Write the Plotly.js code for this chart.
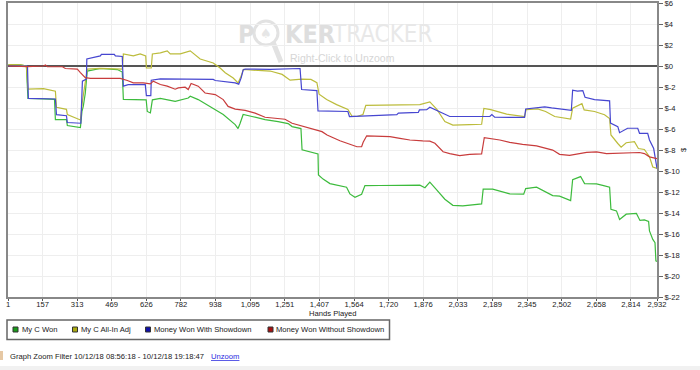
<!DOCTYPE html>
<html>
<head>
<meta charset="utf-8">
<script src="https://cdn.plot.ly/plotly-3.0.1.min.js"></script>
<style>
html,body{margin:0;padding:0;background:#fff;}
#chart{width:700px;height:370px;}
</style>
</head>
<body>
<div id="chart"></div>
<script>
// ---- Data ----
const xTickVals = [1,157,313,469,626,782,938,1095,1251,1407,1564,1720,1876,2033,2189,2345,2502,2658,2814,2932];
const xTickText = ["1","157","313","469","626","782","938","1,095","1,251","1,407","1,564","1,720","1,876","2,033","2,189","2,345","2,502","2,658","2,814","2,932"];
const yTickVals = [-22,-20,-18,-16,-14,-12,-10,-8,-6,-4,-2,0,2,4,6];
const yTickText = ["$-22","$-20","$-18","$-16","$-14","$-12","$-10","$-8","$-6","$-4","$-2","$0","$2","$4","$6"];

const seriesNames = ["My C Won","My C All-In Adj","Money Won With Showdown","Money Won Without Showdown"];

const myCWonHands = [3,57,84,91,161,211,215,265,269,328,335,341,350,359,418,495,517,522,625,630,644,653,689,756,815,824,860,937,973,1027,1040,1049,1063,1103,1162,1221,1266,1284,1324,1329,1397,1401,1403,1424,1455,1530,1545,1568,1598,1613,1681,1756,1861,1884,1906,1936,1974,2010,2055,2140,2147,2190,2235,2267,2330,2339,2388,2416,2461,2492,2542,2551,2587,2605,2659,2691,2718,2724,2749,2763,2793,2839,2855,2875,2894,2898,2913,2923,2927,2932];
const myCWon = [0.14,0.10,0,-3.08,-3.13,-3.17,-5.10,-5.10,-5.67,-5.87,-4.33,-3.85,-2.60,-0.48,-0.24,-0.34,-0.58,-3.17,-3.22,-4.33,-4.47,-3.22,-3.08,-3.37,-3.05,-2.88,-3.20,-4.13,-4.62,-5.58,-5.96,-5.48,-4.62,-4.81,-5.10,-5.29,-5.48,-5.77,-5.96,-7.98,-8.32,-8.37,-10.38,-10.77,-11.20,-11.54,-12.18,-12.50,-12.21,-11.39,-11.38,-11.38,-11.35,-11.59,-11.06,-11.78,-12.69,-13.27,-13.32,-13.13,-11.73,-11.73,-11.95,-12.18,-12.21,-11.68,-11.54,-11.86,-12.34,-12.40,-12.82,-10.82,-10.53,-11.20,-11.22,-11.39,-11.54,-13.65,-13.80,-14.62,-14.11,-14.04,-14.71,-14.66,-14.81,-15.70,-16.51,-16.83,-18.56,-18.61];

const allInHands = [3,57,84,91,161,206,215,220,265,269,328,337,346,359,418,495,517,522,567,598,623,626,648,653,689,720,734,779,824,869,928,959,982,1018,1040,1054,1064,1094,1185,1239,1275,1328,1369,1396,1406,1440,1485,1536,1554,1577,1604,1617,1681,1757,1861,1906,1938,1974,2010,2086,2140,2150,2181,2253,2334,2341,2393,2429,2470,2542,2551,2593,2603,2650,2695,2718,2724,2755,2770,2793,2830,2848,2875,2898,2913,2932];
const allInAdj = [0.14,0.10,0,-2.21,-2.16,-2.40,-2.40,-3.94,-4.13,-4.62,-5.14,-3.37,-2.21,-0.29,-0.22,-0.24,-0.29,1.15,0.96,1.15,0.96,-0.19,-0.19,1.15,1.25,1.44,1.15,1.15,1.44,0.67,0.29,-0.19,-0.64,-1.15,-1.61,-0.96,-0.32,-0.38,-0.48,-0.80,-1.35,-1.25,-1.28,-1.59,-2.69,-3.20,-3.68,-4.13,-4.76,-4.81,-4.62,-3.75,-3.75,-3.68,-3.68,-3.41,-4.13,-5.29,-5.63,-5.58,-5.55,-4.04,-4.16,-4.59,-4.81,-4.16,-4.09,-4.33,-4.81,-5.05,-4.01,-3.59,-4.18,-4.33,-4.64,-5.00,-6.57,-7.38,-7.74,-7.31,-7.21,-7.86,-7.95,-8.65,-9.62,-9.76];

const showdownHands = [3,89,93,215,220,265,269,330,337,355,357,418,423,481,486,517,522,544,621,626,646,648,689,928,937,1027,1043,1054,1063,1072,1185,1320,1327,1396,1401,1536,1543,1757,1764,1854,1859,1892,1906,1936,1996,2177,2186,2199,2334,2339,2425,2456,2545,2551,2573,2597,2607,2650,2718,2722,2755,2763,2799,2845,2853,2890,2898,2917,2921,2932];
const withShowdown = [0,0,-3.08,-3.14,-4.64,-4.74,-5.38,-5.45,-1.44,-1.25,0.67,0.96,1.11,1.11,0.96,0.91,-1.92,-1.78,-1.78,-2.82,-2.82,-1.35,-1.22,-1.28,-1.38,-1.61,-1.73,-1.13,-0.38,-0.29,-0.32,-0.24,-2.24,-2.34,-4.28,-4.33,-4.81,-4.64,-4.49,-4.42,-4.18,-4.16,-3.92,-4.23,-4.81,-4.81,-4.62,-4.88,-4.90,-4.09,-3.89,-3.99,-4.23,-2.31,-2.40,-2.34,-2.98,-3.20,-3.32,-5.43,-5.77,-6.35,-5.93,-5.93,-6.41,-6.41,-7.05,-7.86,-8.49,-9.76];

const noShowdownHands = [3,89,161,170,179,247,260,314,328,350,373,508,540,567,612,644,657,689,720,756,770,801,815,828,860,891,937,973,995,1027,1072,1117,1162,1207,1252,1284,1329,1374,1419,1442,1500,1545,1577,1598,1605,1621,1681,1726,1771,1816,1874,1906,1929,1966,1996,2041,2086,2140,2152,2222,2267,2325,2388,2461,2492,2537,2614,2659,2704,2794,2853,2875,2898,2932];
const withoutShowdown = [0,-0.05,0,0.10,-0.07,-0.07,-0.24,-0.29,-0.63,-1.11,-1.18,-1.18,-1.38,-1.61,-1.61,-1.70,-1.44,-1.76,-1.92,-2.21,-2.09,-2.02,-2.24,-1.66,-1.92,-2.57,-2.72,-3.20,-3.85,-4.11,-4.23,-4.49,-4.88,-4.97,-5.07,-5.45,-5.70,-5.93,-6.25,-6.57,-7.12,-7.45,-7.69,-7.69,-7.26,-6.65,-6.66,-6.73,-6.89,-7.05,-7.14,-7.16,-7.36,-8.17,-8.34,-8.53,-8.41,-8.37,-6.83,-7.05,-7.28,-7.47,-7.60,-8.01,-8.41,-8.51,-8.22,-8.17,-8.34,-8.27,-8.24,-8.34,-8.65,-8.82];

// ---- Styling ----
const lineColors = ["#3dbb3d","#bcbc3c","#4646d0","#c83c3c"];
const swatchColors = ["#1a9c1a","#aaaa10","#1010a8","#a81010"];
const FONT = "Liberation Sans, Arial, sans-serif";
const FS = 7.65;

// pixel -> paper helpers for decorations (plot area x 8..657, y 3..297)
const PX = p => (p - 8) / 649;
const PY = p => (297 - p) / 294;

const xs = [myCWonHands, allInHands, showdownHands, noShowdownHands];
const ys = [myCWon, allInAdj, withShowdown, withoutShowdown];

const traces = seriesNames.map((n, i) => ({
  type: "scatter", mode: "lines", name: n,
  x: xs[i], y: ys[i],
  line: {color: lineColors[i], width: 1.2},
  hoverinfo: "skip", showlegend: false
}));

const shapes = [];
const annotations = [];

// axis titles
annotations.push({xref:"paper", yref:"paper", x:PX(333), y:PY(313.5), xanchor:"center", yanchor:"middle",
  text:"Hands Played", showarrow:false, font:{family:FONT, size:FS, color:"#222"}});
annotations.push({xref:"paper", yref:"paper", x:PX(683), y:PY(150), xanchor:"center", yanchor:"middle",
  text:"$", textangle:-90, showarrow:false, font:{family:FONT, size:FS, color:"#222"}});

// legend box
shapes.push({type:"rect", xref:"paper", yref:"paper", x0:PX(7), x1:PX(389.5), y0:PY(339.5), y1:PY(320),
  line:{color:"#666", width:1.5}, fillcolor:"rgba(0,0,0,0)"});
const swatchX = [13, 72.5, 145.5, 268];
const labelX = [20, 79, 152, 274];
seriesNames.forEach((n, i) => {
  shapes.push({type:"rect", xref:"paper", yref:"paper", x0:PX(swatchX[i]), x1:PX(swatchX[i]+5),
    y0:PY(332), y1:PY(327), fillcolor:swatchColors[i], line:{color:"#333", width:1}});
  annotations.push({xref:"paper", yref:"paper", x:PX(labelX[i]), y:PY(329.5), xanchor:"left", yanchor:"middle",
    text:n, showarrow:false, font:{family:FONT, size:FS, color:"#222"}});
});

// bottom band + small icon
shapes.push({type:"rect", xref:"paper", yref:"paper", x0:PX(0), x1:PX(700), y0:PY(372), y1:PY(366),
  fillcolor:"#f1f1f1", line:{width:0}});
shapes.push({type:"rect", xref:"paper", yref:"paper", x0:PX(0), x1:PX(3), y0:PY(360), y1:PY(351),
  fillcolor:"#e6c8a4", line:{width:0}});

annotations.push({xref:"paper", yref:"paper", x:PX(8), y:PY(356), xanchor:"left", yanchor:"middle",
  text:"Graph Zoom Filter 10/12/18 08:56:18 - 10/12/18 19:18:47", showarrow:false,
  font:{family:FONT, size:FS, color:"#222"}});
annotations.push({xref:"paper", yref:"paper", x:PX(208.5), y:PY(356), xanchor:"left", yanchor:"middle",
  text:"Unzoom", showarrow:false, font:{family:FONT, size:FS, color:"#2a2ae0", lineposition:"under"}});

// watermark
shapes.push({type:"circle", xref:"paper", yref:"paper", layer:"below", x0:PX(254), x1:PX(278), y0:PY(45), y1:PY(21),
  line:{color:"#e2e2e2", width:3}, fillcolor:"rgba(0,0,0,0)"});
shapes.push({type:"line", xref:"paper", yref:"paper", layer:"below", x0:PX(273), y0:PY(42), x1:PX(281), y1:PY(62),
  line:{color:"#e2e2e2", width:5}});
annotations.push({xref:"paper", yref:"paper", x:PX(266), y:PY(33), xanchor:"center", yanchor:"middle",
  text:"♠", showarrow:false, font:{family:"DejaVu Sans", size:13, color:"#e6e6e6"}});
annotations.push({xref:"paper", yref:"paper", x:PX(236), y:PY(34), xanchor:"left", yanchor:"middle",
  text:"P", showarrow:false, font:{family:"DejaVu Sans Condensed, DejaVu Sans", size:25, weight:700, color:"#dedede"}});
annotations.push({xref:"paper", yref:"paper", x:PX(283), y:PY(34), xanchor:"left", yanchor:"middle",
  text:"KER", showarrow:false, font:{family:"DejaVu Sans Condensed, DejaVu Sans", size:25, weight:700, color:"#dedede"}});
annotations.push({xref:"paper", yref:"paper", x:PX(330), y:PY(34), xanchor:"left", yanchor:"middle",
  text:"TRACKER", showarrow:false, font:{family:"DejaVu Sans Condensed, DejaVu Sans", size:24, color:"#e8e8e8"}});
annotations.push({xref:"paper", yref:"paper", x:PX(288), y:PY(58), xanchor:"left", yanchor:"middle",
  text:"Right-Click to Unzoom", showarrow:false, font:{family:FONT, size:10.5, color:"#d6d6d6"}});

const layout = {
  width:700, height:370,
  margin:{l:8, r:43, t:3, b:73, pad:0},
  paper_bgcolor:"#ffffff", plot_bgcolor:"#ffffff",
  font:{family:FONT, size:FS, color:"#222"},
  showlegend:false,
  xaxis:{
    range:[1,2932], tickmode:"array", tickvals:xTickVals, ticktext:xTickText,
    ticks:"outside", ticklen:2, tickcolor:"#555", tickwidth:1,
    showgrid:true, gridcolor:"#eeeeee", gridwidth:1,
    showline:true, linecolor:"#888", linewidth:2, mirror:true,
    zeroline:false, automargin:false, fixedrange:true, ticklabeloverflow:"allow",
    ticklabelstandoff:-3,
    tickfont:{family:FONT, size:FS, color:"#222"}
  },
  yaxis:{
    side:"right", range:[-22,6], tickmode:"array", tickvals:yTickVals, ticktext:yTickText,
    ticks:"outside", ticklen:4, tickcolor:"#666", tickwidth:1,
    showgrid:true, gridcolor:"#eeeeee", gridwidth:1,
    showline:true, linecolor:"#888", linewidth:2, mirror:true,
    zeroline:true, zerolinecolor:"#555", zerolinewidth:1.5,
    automargin:false, fixedrange:true, ticklabeloverflow:"allow",
    tickfont:{family:FONT, size:FS, color:"#222"}
  },
  shapes:shapes,
  annotations:annotations
};

Plotly.newPlot("chart", traces, layout, {staticPlot:true, displayModeBar:false});
</script>
</body>
</html>
